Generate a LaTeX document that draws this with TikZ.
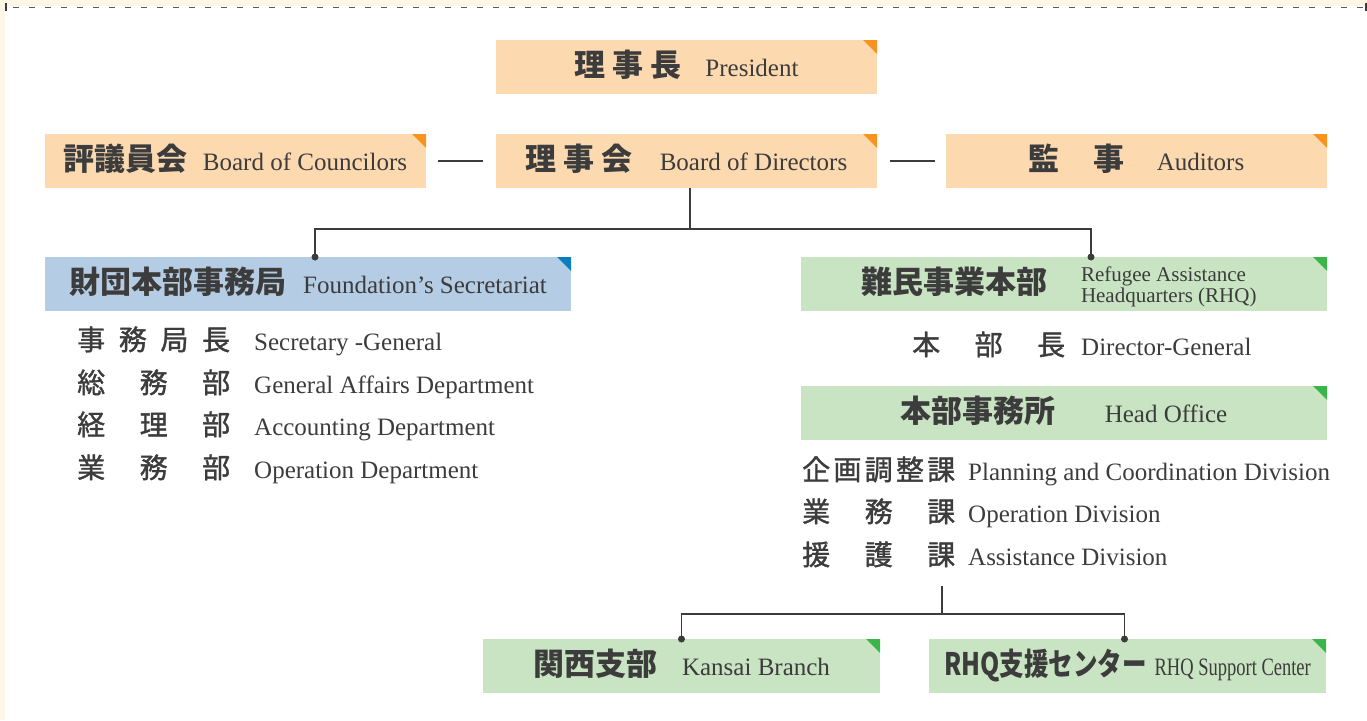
\documentclass[tikz,border=0pt]{standalone}
\usepackage{fontspec}
\setmainfont{Liberation Serif}
\newfontfamily\cjk{Noto Sans CJK JP}
\newfontfamily\cjklist{Noto Sans CJK JP}[FakeBold=1.3]
\newfontfamily\cjknarrow{Noto Sans CJK JP}[FakeStretch=0.79]
\newfontfamily\ennarrow{Liberation Serif}[FakeStretch=0.74]
\usetikzlibrary{positioning}
\definecolor{ink}{HTML}{3C3C3C}
\definecolor{cream}{HTML}{FDF6E4}
\definecolor{orfill}{HTML}{FDD9B0}
\definecolor{ortip}{HTML}{F7931E}
\definecolor{blfill}{HTML}{B4CCE4}
\definecolor{bltip}{HTML}{0B7EC1}
\definecolor{grfill}{HTML}{C9E4C2}
\definecolor{grtip}{HTML}{3AB54A}
\newcommand\jpbold{\cjk\bfseries\fontsize{31}{34}\selectfont}
\newcommand\jplist[1]{{\cjklist\fontsize{28}{30}\selectfont\makebox[153pt][s]{#1}}}
\tikzset{%
orgbox/.style={minimum height=54pt, inner sep=0pt, outer sep=0pt, text=ink,
               text height=24pt, text depth=6pt, font=\fontsize{25}{30}\selectfont},
orange/.style={orgbox, fill=orfill, minimum width=381pt},
blue/.style={orgbox, fill=blfill, minimum width=526pt},
green/.style={orgbox, fill=grfill, minimum width=526pt},
greensmall/.style={orgbox, fill=grfill, minimum width=397pt},
listrow/.style={anchor=base west, inner sep=0pt, text=ink, font=\fontsize{25}{30}\selectfont},
link/.style={draw=ink, line width=1.6pt},
branch/.style={draw=ink, line width=1.6pt}
}

\begin{document}
\begin{tikzpicture}[x=1pt,y=-1pt]
\useasboundingbox (0,0) rectangle (1367,720);
% frame
\fill[cream] (0,0) rectangle (1367,6);
\fill[cream] (0,0) rectangle (5,720);
\draw[ink!85, line width=1.6pt, dash pattern=on 6pt off 10pt] (13,7.5) -- (1367,7.5);
\draw[ink, line width=2.2pt] (6,3) -- (6,11);
\draw[ink, line width=2.2pt] (1366,3) -- (1366,11);

% board level
\node[orange,anchor=north west] (coun) at (45,134)  {{\jpbold 評議員会}\hspace{15pt}Board of Councilors};
\node[orange,right = 70pt]      (dir)  at (coun.east) {{\jpbold 理\hspace{7pt}事\hspace{7pt}会}\hspace{27pt}Board of Directors};
\node[orange,right = 69pt]      (aud)  at (dir.east)  {{\jpbold 監\hspace{34pt}事}\hspace{32pt}Auditors};
\node[orange,above = 40pt]      (pres) at (dir.north) {{\jpbold 理\hspace{7pt}事\hspace{7pt}長}\hspace{24pt}President};

% offices
\node[blue,anchor=north west]  (sec)  at (45,257)  {{\jpbold 財団本部事務局}\hspace{17pt}Foundation’s Secretariat};
\node[green,anchor=north west] (rhq)  at (801,257) {{\jpbold 難民事業本部}\hspace{34pt}\parbox[c]{186pt}{\fontsize{21}{21}\selectfont Refugee Assistance\\Headquarters (RHQ)}};
\node[green,anchor=north west] (head) at (801,386) {{\jpbold 本部事務所}\hspace{49pt}Head Office};
\node[greensmall,anchor=north west] (kansai) at (483,639) {{\jpbold 関西支部}\hspace{25pt}Kansai Branch};
\node[greensmall,anchor=north west] (rhqc)   at (929,639) {{\cjknarrow\bfseries\fontsize{31}{34}\selectfont RHQ支援センター}\hspace{8pt}{\ennarrow RHQ Support Center}};

\foreach \b/\c in {pres/ortip, coun/ortip, dir/ortip, aud/ortip,
                   sec/bltip, rhq/grtip, head/grtip, kansai/grtip, rhqc/grtip}
  \fill[\c] (\b.north east) -- ++(-14pt,0) -- ++(14pt,-14pt) -- cycle;

% staff lists
\foreach \jp/\en/\yy [count=\i] in {事\hfill 務\hfill 局\hfill 長/Secretary -General/350,
                                    総\hfill 務\hfill 部/General Affairs Department/393,
                                    経\hfill 理\hfill 部/Accounting Department/435,
                                    業\hfill 務\hfill 部/Operation Department/478}
  \node[listrow] (secrow\i) at (77,\yy) {\jplist{\jp}\hspace{24pt}\en};

\node[listrow] (dg) at (912,355) {\jplist{本\hfill 部\hfill 長}\hspace{16pt}Director-General};

\foreach \jp/\en/\yy [count=\i] in {企\hfill 画\hfill 調\hfill 整\hfill 課/Planning and Coordination Division/480,
                                    業\hfill 務\hfill 課/Operation Division/522,
                                    援\hfill 護\hfill 課/Assistance Division/565}
  \node[listrow] (divrow\i) at (802,\yy) {\jplist{\jp}\hspace{13pt}\en};

% connectors
\draw[link] ([xshift=12pt]coun.east) -- ([xshift=-13pt]dir.west);
\draw[link] ([xshift=13pt]dir.east) -- ([xshift=-11pt]aud.west);

\coordinate (topbar) at (690,229);
\coordinate (secdot) at ([xshift=7pt]sec.north);
\coordinate (rhqdot) at ([xshift=27pt]rhq.north);
\draw[branch] ([xshift=3.5pt]dir.south) -- (topbar);
\draw[branch] (secdot) |- (topbar) -| (rhqdot);

\coordinate (lowfork) at (942,586);
\coordinate (lowbar)  at (942,614);
\coordinate (rhqcdot) at ([xshift=-3pt]rhqc.north);
\draw[branch] (lowfork) -- (lowbar);
\draw[branch] (kansai.north) |- (lowbar) -| (rhqcdot);

\foreach \d in {secdot, rhqdot, kansai.north, rhqcdot}
  \fill[ink] (\d) circle (3.5pt);
\end{tikzpicture}
\end{document}
